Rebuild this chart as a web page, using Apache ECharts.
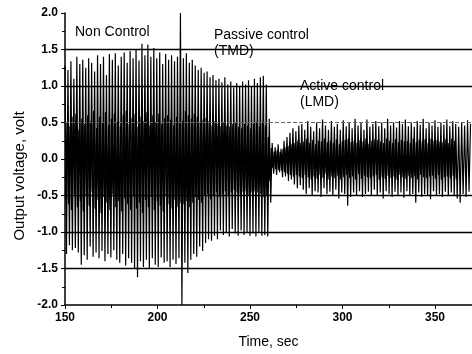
<!DOCTYPE html>
<html>
<head>
<meta charset="utf-8">
<script src="https://cdn.jsdelivr.net/npm/echarts@6/dist/echarts.min.js"></script>
<style>
  html, body { margin: 0; padding: 0; background: #fff; }
  #chart { width: 472px; height: 354px; }
</style>
</head>
<body>
<div id="chart"></div>
<script>
// sampling of the trace: one value per half cycle
var startTime = 150
var timeStep = 0.8

// large swings of the trace
// non control (150 - 212 s), then the switching spike
var nonControl = [
  1.28, -1.30, 1.22, -1.18, 1.34, -1.25, 1.10, -1.22, 1.40, -1.28,
  1.30, -1.45, 1.36, -1.32, 1.25, -1.38, 1.38, -1.20, 1.32, -1.34,
  1.20, -1.28, 1.42, -1.36, 1.30, -1.26, 1.40, -1.40, 1.15, -1.30,
  1.44, -1.35, 1.36, -1.25, 1.45, -1.38, 1.28, -1.42, 1.40, -1.30,
  1.46, -1.46, 1.32, -1.36, 1.48, -1.42, 1.38, -1.50, 1.50, -1.62,
  1.35, -1.40, 1.58, -1.48, 1.42, -1.38, 1.57, -1.50, 1.40, -1.36,
  1.52, -1.45, 1.38, -1.48, 1.46, -1.35, 1.30, -1.42, 1.44, -1.40,
  1.36, -1.48, 1.42, -1.38, 1.34, -1.44, 1.40, -1.36,
  2.00, -2.00
]
// passive control, TMD (214 - 260 s)
var passiveControl = [
  1.38, -1.42, 1.45, -1.56, 1.32, -1.38, 1.36, -1.30, 1.28, -1.34,
  1.22, -1.20, 1.25, -1.26, 1.18, -1.15, 1.20, -1.10, 1.12, -1.12,
  1.15, -1.05, 1.08, -1.10, 1.10, -0.98, 1.05, -1.04, 1.12, -1.00,
  1.02, -1.06, 1.06, -0.96, 0.98, -1.02, 1.04, -1.05, 1.00, -0.98,
  1.06, -1.04, 1.02, -1.00, 1.08, -1.05, 1.00, -1.02, 1.10, -1.06,
  1.04, -1.00, 1.12, -1.05, 1.14, -1.04, 1.02, -1.06
]
// active control, LMD (260 - 370 s)
var activeControl = [
  0.55, -0.60, 0.22, -0.20, 0.16, -0.22, 0.20, -0.18, 0.14, -0.25,
  0.25, -0.24, 0.30, -0.30, 0.36, -0.28, 0.42, -0.35, 0.38, -0.40,
  0.46, -0.36,
  0.48, -0.42, 0.40, -0.48, 0.52, -0.40, 0.44, -0.50, 0.38, -0.44,
  0.50, -0.46, 0.42, -0.52, 0.54, -0.40, 0.46, -0.48, 0.40, -0.45,
  0.52, -0.50, 0.44, -0.42, 0.48, -0.54, 0.40, -0.46, 0.53, -0.48,
  0.45, -0.64, 0.50, -0.52, 0.42, -0.46, 0.55, -0.50, 0.46, -0.44,
  0.50, -0.52, 0.40, -0.48, 0.54, -0.45, 0.44, -0.50, 0.48, -0.42,
  0.52, -0.50, 0.45, -0.46, 0.50, -0.54, 0.42, -0.44, 0.55, -0.48,
  0.46, -0.52, 0.50, -0.45, 0.43, -0.50, 0.52, -0.46, 0.48, -0.53,
  0.54, -0.44, 0.45, -0.50, 0.50, -0.48, 0.44, -0.60, 0.52, -0.46,
  0.47, -0.52, 0.55, -0.48, 0.42, -0.50, 0.50, -0.55, 0.46, -0.44,
  0.53, -0.50, 0.44, -0.48, 0.50, -0.52, 0.47, -0.45, 0.54, -0.50,
  0.45, -0.46, 0.52, -0.50, 0.48, -0.54, 0.44, -0.60, 0.50, -0.48,
  0.46, -0.52, 0.53, -0.45, 0.48
]

// smaller fast swings in between (half a step later)
var nonControlInner = [
  -0.55, 0.50, -0.62, 0.45, -0.70, 0.58, -0.48, 0.62, -0.66, 0.40,
  -0.58, 0.55, -0.72, 0.48, -0.50, 0.60, -0.64, 0.52, -0.45, 0.66,
  -0.68, 0.42, -0.56, 0.58, -0.74, 0.50, -0.52, 0.64, -0.60, 0.46,
  -0.70, 0.55, -0.48, 0.62, -0.66, 0.50, -0.58, 0.45, -0.72, 0.60,
  -0.54, 0.66, -0.62, 0.48, -0.70, 0.56, -0.50, 0.62, -0.68, 0.44,
  -0.60, 0.58, -0.74, 0.52, -0.56, 0.64, -0.66, 0.46, -0.52, 0.60,
  -0.70, 0.50, -0.58, 0.62, -0.64, 0.48, -0.72, 0.56, -0.50, 0.60,
  -0.62, 0.54, -0.68, 0.46, -0.56, 0.58, -0.66, 0.50, -0.60, 0.52
]
var passiveInner = [
  -0.62, 0.66, -0.58, 0.60, -0.66, 0.55, -0.60, 0.62, -0.52, 0.58,
  -0.56, 0.50, -0.60, 0.54, -0.50, 0.56, -0.48, 0.52, -0.55, 0.46,
  -0.50, 0.52, -0.46, 0.48, -0.52, 0.45, -0.48, 0.50, -0.44, 0.46,
  -0.50, 0.44, -0.46, 0.48, -0.42, 0.50, -0.46, 0.44, -0.48, 0.42,
  -0.45, 0.48, -0.44, 0.46, -0.50, 0.42, -0.46, 0.48, -0.44, 0.50,
  -0.46, 0.45, -0.48, 0.50, -0.52, 0.46, -0.50, 0.30
]
var activeInner = [
  -0.30, 0.15, -0.12, 0.10, -0.14, 0.12, -0.15, 0.10, -0.16, 0.14,
  -0.18, 0.16, -0.20, 0.18, -0.22, 0.20, -0.24, 0.22, -0.22, 0.25,
  -0.24, 0.22,
  -0.26, 0.24, -0.22, 0.28, -0.25, 0.22, -0.28, 0.26, -0.24, 0.20,
  -0.27, 0.25, -0.22, 0.24, -0.26, 0.28, -0.20, 0.23, -0.28, 0.25,
  -0.24, 0.22, -0.26, 0.27, -0.23, 0.20, -0.28, 0.24, -0.25, 0.26,
  -0.22, 0.28, -0.26, 0.23, -0.24, 0.25, -0.28, 0.22, -0.20, 0.26,
  -0.27, 0.24, -0.23, 0.28, -0.25, 0.21, -0.26, 0.25, -0.24, 0.27,
  -0.22, 0.26, -0.28, 0.24, -0.25, 0.22, -0.27, 0.28, -0.23, 0.25,
  -0.26, 0.22, -0.24, 0.27, -0.28, 0.23, -0.22, 0.26, -0.25, 0.24,
  -0.27, 0.25, -0.23, 0.22, -0.26, 0.28, -0.24, 0.23, -0.28, 0.26,
  -0.22, 0.24, -0.25, 0.27, -0.26, 0.22, -0.24, 0.28, -0.23, 0.25,
  -0.27, 0.26, -0.22, 0.24, -0.28, 0.23, -0.25, 0.27, -0.24, 0.22,
  -0.26, 0.28, -0.23, 0.25, -0.27
]

// reference levels drawn across the plot
var solidLevels = [1.5, 1.0, -0.5, -1.0, -1.5]
var dashedLevels = [0.5]

var swing = nonControl.concat(passiveControl, activeControl)
var inner = nonControlInner.concat(passiveInner, activeInner)
var swingTrace = swing.map(function (v, i) {
  return [startTime + i * timeStep, v]
})
var innerTrace = inner.map(function (v, i) {
  return [startTime + (i + 0.5) * timeStep, v]
})

var font = 'Liberation Sans'
var chart = echarts.init(document.getElementById('chart'))
chart.setOption({
  animation: false,
  backgroundColor: '#fff',
  grid: { left: 65, right: 0, top: 13, bottom: 47 },
  xAxis: {
    type: 'value',
    min: 150,
    max: 370,
    interval: 50,
    name: 'Time, sec',
    nameLocation: 'middle',
    nameGap: 30,
    nameTextStyle: { color: '#000', fontSize: 14, fontFamily: font },
    axisLine: { onZero: false, lineStyle: { color: '#000', width: 1.5 } },
    axisTick: { length: 4, lineStyle: { color: '#000' } },
    minorTick: { show: true, splitNumber: 2, length: 3, lineStyle: { color: '#000' } },
    splitLine: { show: false },
    axisLabel: { color: '#000', fontSize: 12, fontFamily: font, fontWeight: 'bold', margin: 7, showMaxLabel: false }
  },
  yAxis: {
    type: 'value',
    min: -2,
    max: 2,
    interval: 0.5,
    axisLine: { show: true, lineStyle: { color: '#000', width: 1.5 } },
    axisTick: { length: 4, lineStyle: { color: '#000' } },
    minorTick: { show: true, splitNumber: 2, length: 3, lineStyle: { color: '#000' } },
    splitLine: { show: false },
    axisLabel: {
      color: '#000', fontSize: 12, fontFamily: font, fontWeight: 'bold', margin: 7,
      formatter: function (v) { return v.toFixed(1) }
    }
  },
  graphic: [
    {
      type: 'text', x: 20, y: 176, rotation: Math.PI / 2,
      style: { text: 'Output voltage, volt', fill: '#000', font: '15px ' + font, align: 'center', verticalAlign: 'middle' }
    },
    { type: 'text', x: 75, y: 32, style: { text: 'Non Control', fill: '#000', font: '14px ' + font, verticalAlign: 'middle' } },
    { type: 'text', x: 214, y: 35, style: { text: 'Passive control', fill: '#000', font: '14px ' + font, verticalAlign: 'middle' } },
    { type: 'text', x: 214, y: 51, style: { text: '(TMD)', fill: '#000', font: '14px ' + font, verticalAlign: 'middle' } },
    { type: 'text', x: 300, y: 86, style: { text: 'Active control', fill: '#000', font: '14px ' + font, verticalAlign: 'middle' } },
    { type: 'text', x: 300, y: 102, style: { text: '(LMD)', fill: '#000', font: '14px ' + font, verticalAlign: 'middle' } }
  ],
  series: [
    {
      type: 'line',
      data: innerTrace,
      showSymbol: false,
      silent: true,
      lineStyle: { color: '#000', width: 1.6 }
    },
    {
      type: 'line',
      data: swingTrace,
      showSymbol: false,
      silent: true,
      lineStyle: { color: '#000', width: 1.2 },
      markLine: {
        silent: true,
        symbol: 'none',
        label: { show: false },
        lineStyle: { color: '#000', width: 1.3, type: 'solid' },
        data: solidLevels.map(function (y) { return { yAxis: y } }).concat(
          dashedLevels.map(function (y) {
            return { yAxis: y, lineStyle: { type: 'dashed', color: '#666', width: 1 } }
          })
        )
      }
    }
  ]
})
</script>
</body>
</html>
